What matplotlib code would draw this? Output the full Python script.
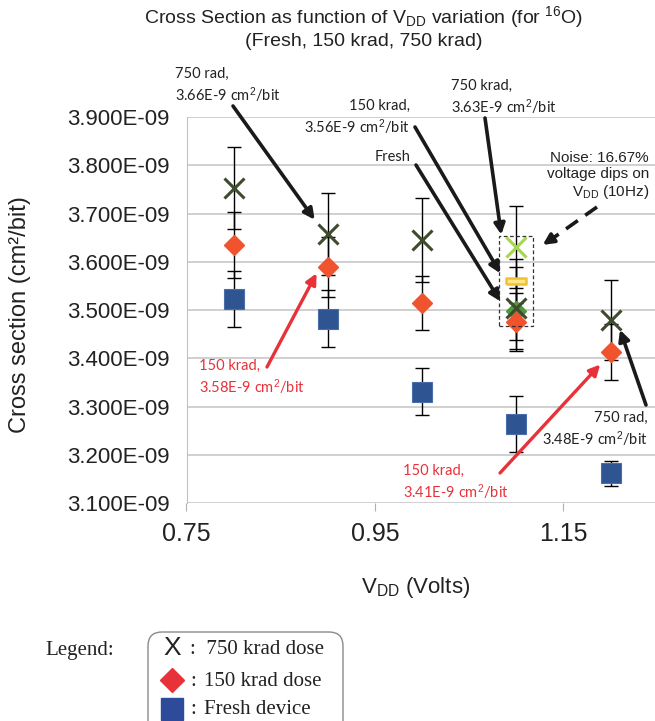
import matplotlib
matplotlib.use("Agg")
import matplotlib.pyplot as plt
from matplotlib.patches import FancyBboxPatch, Rectangle
from matplotlib.ticker import FuncFormatter, MultipleLocator
import numpy as np

plt.rcParams['mathtext.fontset'] = 'custom'
plt.rcParams['mathtext.rm'] = 'Liberation Sans'
plt.rcParams['mathtext.it'] = 'Liberation Sans:italic'

# cross sections in units of 1E-09 cm^2/bit
vdd = [0.8, 0.9, 1.0, 1.1, 1.2]
xs_750 = [3.753, 3.657, 3.645, 3.505, 3.480]
err_750 = [0.085, 0.085, 0.087, 0.085, 0.083]
xs_150 = [3.635, 3.589, 3.514, 3.475, 3.412]
err_150 = [0.069, 0.063, 0.056, 0.060, 0.058]
xs_fresh = [3.523, 3.482, 3.331, 3.264, 3.162]
err_fresh = [0.058, 0.059, 0.048, 0.058, 0.026]

# noise runs (16.67% VDD dips) at 1.1 V
noise_vdd = 1.1
noise_750, noise_750_err = 3.630, 0.085
noise_150, noise_150_err = 3.560, 0.045
noise_fresh, noise_fresh_err = 3.498, 0.060

x_ticks = [0.75, 0.95, 1.15]

c750 = '#3e4b2c'
c150 = '#f0532e'
cfresh = '#2e5591'
cred = '#e8323a'

fig = plt.figure(figsize=(6.55, 7.21), dpi=100)
W, H = 655, 721
ax = fig.add_axes([186.5 / W, (H - 503) / H, (W - 186.5) / W, (503 - 117) / H])

# error bars
ekw = dict(fmt='none', ecolor='black', elinewidth=1, capsize=4.7, capthick=1, zorder=2)
ax.errorbar(vdd, xs_fresh, yerr=err_fresh, **ekw)
ax.errorbar(vdd, xs_150, yerr=err_150, **ekw)
ax.errorbar(vdd, xs_750, yerr=err_750, **ekw)
ax.errorbar([noise_vdd] * 3, [noise_750, noise_150, noise_fresh],
            yerr=[noise_750_err, noise_150_err, noise_fresh_err], **ekw)

ax.plot(vdd, xs_fresh, 's', ms=15, mfc=cfresh, mec='#4a6ea8', mew=0.8, ls='none', zorder=3)
ax.plot([noise_vdd], [noise_fresh], 'D', ms=10, mfc='#4e9a3a', mec='#4e9a3a', zorder=3.5)
ax.plot(vdd, xs_150, 'D', ms=10.5, mfc=c150, mec=c150, ls='none', zorder=4)
ax.plot(vdd, xs_750, 'x', ms=15, mew=2.2, color=c750, ls='none', zorder=5)
ax.plot([noise_vdd], [noise_750], 'x', ms=15, mew=2.2, color='#a6d64a', zorder=5)
bar_marker = [(-1, -0.3), (1, -0.3), (1, 0.3), (-1, 0.3), (-1, -0.3)]
ax.plot([noise_vdd], [noise_150], marker=bar_marker, ms=14, mfc='#fde68c', mec='#f2c12e',
        mew=1.8, zorder=5)

# dashed box around noise points
ax.add_patch(Rectangle((noise_vdd - 0.018, 3.466), 0.036, 0.188, fill=False,
                       ls=(0, (3, 2)), lw=0.9, ec='#333333', zorder=6))

ax.set_xlim(0.75, 1.2471)
ax.set_ylim(3.1, 3.9)
ax.set_xticks(x_ticks)
ax.xaxis.set_major_formatter(FuncFormatter(lambda v, p: f"{v:.2f}"))
ax.yaxis.set_major_locator(MultipleLocator(0.1))
ax.yaxis.set_major_formatter(FuncFormatter(lambda v, p: f"{v:.3f}E-09"))
ax.grid(axis='y', color='#c8c8c8', lw=1.2)
ax.set_axisbelow(True)
for s in ['top', 'right', 'bottom']:
    ax.spines[s].set_visible(False)
ax.spines['left'].set_color('#c0c0c0')
ax.tick_params(axis='x', length=6, color='#b0b0b0', labelsize=18, pad=8, labelcolor='#222222')
ax.tick_params(axis='y', length=0, pad=12, labelsize=16, labelcolor='#222222')
for t in ax.get_yticklabels():
    t.set_fontfamily(['Liberation Sans Narrow', 'Liberation Sans'])
for t in ax.get_xticklabels():
    t.set_fontfamily('Liberation Sans')

# overlay in pixel coordinates
ov = fig.add_axes([0, 0, 1, 1], zorder=10)
ov.set_xlim(0, W)
ov.set_ylim(H, 0)
ov.axis('off')

ov.text(364, 17, r"Cross Section as function of V$_{\mathrm{DD}}$ variation (for $^{\mathrm{16}}$O)",
        ha='center', va='center', fontsize=14, family='Liberation Sans', color='#222222')
ov.text(364, 42, "(Fresh, 150 krad, 750 krad)", ha='center', va='center', fontsize=14,
        family='Liberation Sans', color='#222222')
ov.text(20, 315, "Cross section (cm²/bit)", rotation=90, ha='center', va='center',
        fontsize=17, family='Liberation Sans', color='#222222')
ov.text(416, 588, r"V$_{\mathrm{DD}}$ (Volts)", ha='center', va='center', fontsize=16,
        family='Liberation Sans', color='#222222')

afont = dict(fontsize=10.5, family='Lato', linespacing=1.3)
ov.text(175, 86, "750 rad,\n3.66E-9 cm$^{2}$/bit", ha='left', va='center', color='#222222', **afont)
ov.text(410, 118, "150 krad,\n3.56E-9 cm$^{2}$/bit", ha='right', va='center', color='#222222', **afont)
ov.text(410, 157, "Fresh", ha='right', va='center', color='#222222', **afont)
ov.text(451, 98, "750 krad,\n3.63E-9 cm$^{2}$/bit", ha='left', va='center', color='#222222', **afont)
ov.text(648, 430, "750 rad,\n3.48E-9 cm$^{2}$/bit", ha='right', va='center', color='#222222', **afont)
ov.text(199, 378, "150 krad,\n3.58E-9 cm$^{2}$/bit", ha='left', va='center', color=cred, **afont)
ov.text(403, 483, "150 krad,\n3.41E-9 cm$^{2}$/bit", ha='left', va='center', color=cred, **afont)
ov.text(649, 176, "Noise: 16.67%\nvoltage dips on\nV$_{\\mathrm{DD}}$ (10Hz)", ha='right',
        va='center', fontsize=11, family='Liberation Sans', linespacing=1.15, color='#222222')


def arrow(start, tip, color='#1a1a1a', lw=2.6):
    ov.annotate("", xy=tip, xycoords=ax.transData, xytext=start, textcoords='data',
                arrowprops=dict(arrowstyle='-|>', color=color, lw=lw, mutation_scale=16,
                                shrinkA=0, shrinkB=0))


arrow((233, 106), (vdd[1] - 0.014, xs_750[1] + 0.030))
arrow((415, 127), (noise_vdd - 0.017, noise_150 + 0.016))
arrow((416, 165), (noise_vdd - 0.017, noise_fresh + 0.020))
arrow((485, 118), (noise_vdd - 0.016, noise_750 + 0.026))
arrow((646, 405), (vdd[4] + 0.010, xs_750[4] - 0.021))
arrow((267, 367), (vdd[1] - 0.012, xs_150[1] - 0.013), color=cred, lw=2.4)
arrow((500, 473), (vdd[4] - 0.011, xs_150[4] - 0.025), color=cred, lw=2.4)

# dashed arrow toward the noise box
ov.plot([597, 556], [207, 236], color='#1a1a1a', lw=2.6, ls=(0, (4, 2.5)))
ov.annotate("", xy=(noise_vdd + 0.028, 3.635), xycoords=ax.transData, xytext=(556, 236),
            textcoords='data',
            arrowprops=dict(arrowstyle='-|>', color='#1a1a1a', lw=2.6, mutation_scale=16,
                            shrinkA=0, shrinkB=0))

# legend box
ov.text(45, 650, "Legend:", ha='left', va='center', fontsize=15, family='Liberation Serif',
        color='#222222')
ov.add_patch(FancyBboxPatch((148, 632), 195, 110, boxstyle="round,pad=0,rounding_size=14",
                            fc='white', ec='#8a8a8a', lw=1))
ov.text(172, 648, "X", ha='center', va='center', fontsize=19, family='Liberation Sans',
        color='#222222')
ov.plot([172], [680], 'D', ms=12, color=cred)
ov.plot([172], [709], 's', ms=16, color='#2e4a9a')
sfont = dict(fontsize=15, family='Liberation Serif', color='#222222', va='center', ha='left')
ov.text(190, 650, ":  750 krad dose", **sfont)
ov.text(190, 681, ":", **sfont)
ov.text(204, 681, "150 krad dose", **sfont)
ov.text(190, 710, ":", **sfont)
ov.text(204, 710, "Fresh device", **sfont)

fig.savefig("out.png", dpi=100)
